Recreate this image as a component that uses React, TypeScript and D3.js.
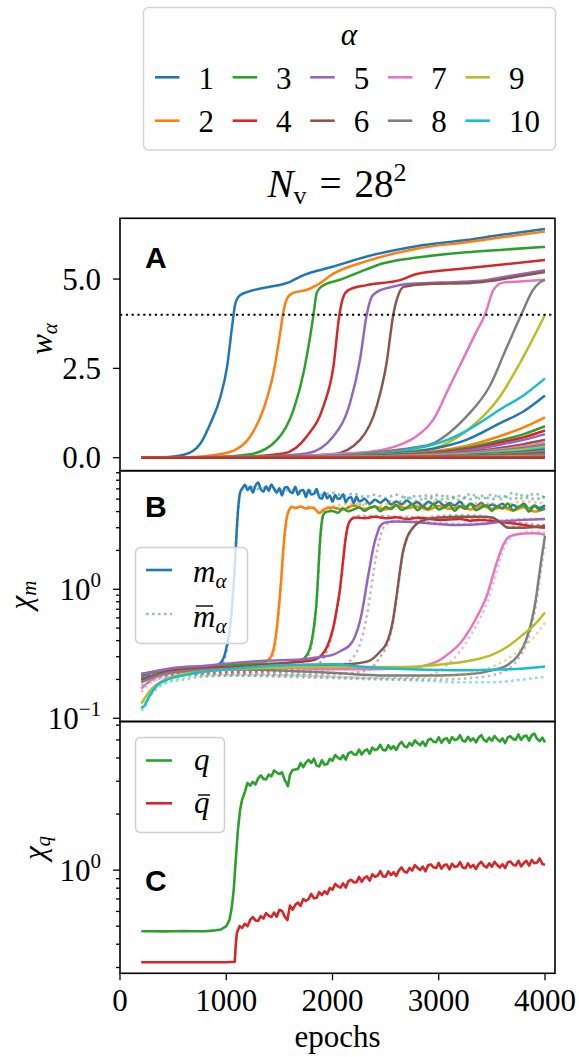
import React from 'react';
import * as d3 from 'd3';

type Pt = [number, number];

// ---------------- DATA ----------------
const alphaLabels = ['1', '2', '3', '4', '5', '6', '7', '8', '9', '10'];
const xTickValues = [0, 1000, 2000, 3000, 4000];
const aTickValues = [0, 2.5, 5.0];
const wThreshold = 4.0;

// Panel A: w_alpha (hidden units 1..10 labelled, then more units)
const w1: Pt[] = [[200,0],[400,0.01],[600,0.08],[757,0.4],[851,0.96],[945,1.7],[1008,2.55],[1055,3.67],[1086,4.32],[1133,4.55],[1258,4.69],[1400,4.78],[1540,4.86],[1600,4.92],[1696,5.07],[2009,5.35],[2322,5.63],[2791,5.92],[3260,6.09],[3573,6.23],[4000,6.4]];
const w2: Pt[] = [[200,0],[600,0.01],[851,0.06],[1070,0.2],[1227,0.6],[1352,1.37],[1446,2.4],[1508,3.5],[1533,4.0],[1571,4.45],[1620,4.6],[1760,4.7],[1853,4.83],[2009,5.15],[2322,5.5],[2791,5.85],[3260,6.03],[3573,6.16],[4000,6.33]];
const w3: Pt[] = [[200,0],[800,0.01],[1227,0.1],[1477,0.5],[1633,1.34],[1727,2.37],[1790,3.4],[1821,4.0],[1852,4.62],[1900,4.8],[2071,4.98],[2300,5.25],[2478,5.44],[2791,5.6],[3260,5.75],[3600,5.82],[4000,5.9]];
const w4: Pt[] = [[200,0],[1000,0.01],[1540,0.12],[1759,0.6],[1915,1.44],[2009,2.56],[2065,4.0],[2102,4.5],[2150,4.69],[2322,4.83],[2635,4.97],[2791,5.14],[3260,5.3],[4000,5.53]];
const w5: Pt[] = [[200,0],[1200,0.02],[1759,0.12],[2009,0.6],[2165,1.53],[2259,2.75],[2322,4.0],[2369,4.5],[2420,4.64],[2560,4.78],[2700,4.86],[3000,4.9],[3400,4.95],[3600,5.05],[4000,5.25]];
const w6: Pt[] = [[200,0],[1400,0.02],[2009,0.1],[2259,0.5],[2416,1.44],[2509,2.65],[2572,4.0],[2619,4.55],[2670,4.78],[2900,4.86],[3300,4.89],[3500,4.95],[3700,5.05],[4000,5.2]];
const w7: Pt[] = [[200,0],[1500,0.03],[2000,0.1],[2300,0.15],[2478,0.22],[2650,0.38],[2791,0.6],[2947,1.06],[3103,2.0],[3263,2.97],[3350,3.5],[3435,4.0],[3513,4.69],[3560,4.85],[3604,4.9],[3760,4.93],[4000,4.98]];
const w8: Pt[] = [[200,0],[1500,0.02],[2000,0.05],[2500,0.18],[2800,0.3],[2947,0.4],[3100,0.7],[3260,1.15],[3479,2.0],[3636,3.06],[3776,4.0],[3886,4.69],[3950,4.9],[4000,4.98]];
const w9: Pt[] = [[200,0],[1500,0.02],[2000,0.04],[2500,0.12],[2800,0.2],[2947,0.26],[3260,0.75],[3573,1.7],[3792,2.8],[4000,4.0]];
const w10: Pt[] = [[200,0],[1500,0.03],[2000,0.06],[2500,0.12],[2800,0.27],[2950,0.37],[3100,0.52],[3260,0.75],[3400,1.0],[3573,1.34],[3800,1.75],[4000,2.22]];
const w11: Pt[] = [[200,0],[1500,0.03],[2000,0.05],[2500,0.1],[2950,0.25],[3260,0.5],[3573,0.96],[3800,1.3],[4000,1.74]];
const w12: Pt[] = [[200,0],[1500,0.02],[2000,0.04],[2500,0.08],[2950,0.18],[3260,0.33],[3573,0.6],[3800,0.85],[4000,1.13]];
const w13: Pt[] = [[200,0],[1500,0.02],[2000,0.035],[2500,0.07],[2950,0.15],[3260,0.27],[3573,0.48],[3800,0.66],[4000,0.88]];
const w14: Pt[] = [[200,0],[1500,0.015],[2000,0.03],[2500,0.06],[2950,0.13],[3260,0.23],[3573,0.42],[3800,0.57],[4000,0.76]];
const w15: Pt[] = [[200,0],[1500,0.015],[2000,0.03],[2500,0.055],[2950,0.11],[3260,0.2],[3573,0.36],[3800,0.5],[4000,0.66]];
const w16: Pt[] = [[200,0],[1500,0.01],[2000,0.025],[2500,0.045],[2950,0.09],[3260,0.15],[3573,0.27],[3800,0.38],[4000,0.5]];
const w17: Pt[] = [[200,0],[1500,0.01],[2000,0.02],[2500,0.04],[2950,0.08],[3260,0.13],[3573,0.23],[3800,0.32],[4000,0.42]];
const w18: Pt[] = [[200,0],[1500,0.01],[2000,0.02],[2500,0.035],[2950,0.07],[3260,0.11],[3573,0.2],[3800,0.27],[4000,0.36]];
const w19: Pt[] = [[200,0],[1500,0.01],[2000,0.018],[2500,0.03],[2950,0.06],[3260,0.1],[3573,0.17],[3800,0.23],[4000,0.31]];
const w20: Pt[] = [[200,0],[1500,0.008],[2000,0.015],[2500,0.025],[2950,0.05],[3260,0.08],[3573,0.14],[3800,0.19],[4000,0.26]];
const w21: Pt[] = [[200,0],[1500,0.007],[2000,0.012],[2500,0.02],[2950,0.04],[3260,0.065],[3573,0.12],[3800,0.16],[4000,0.22]];
const w22: Pt[] = [[200,0],[1500,0.006],[2000,0.01],[2500,0.017],[2950,0.033],[3260,0.055],[3573,0.095],[3800,0.13],[4000,0.18]];
const w23: Pt[] = [[200,0],[1500,0.005],[2000,0.008],[2500,0.014],[2950,0.027],[3260,0.045],[3573,0.08],[3800,0.11],[4000,0.15]];
const w24: Pt[] = [[200,0],[1500,0.004],[2000,0.007],[2500,0.011],[2950,0.022],[3260,0.036],[3573,0.064],[3800,0.088],[4000,0.12]];
const w25: Pt[] = [[200,0],[1500,0.003],[2000,0.006],[2500,0.009],[2950,0.018],[3260,0.03],[3573,0.053],[3800,0.073],[4000,0.1]];
const w26: Pt[] = [[200,0],[1500,0.003],[2000,0.005],[2500,0.007],[2950,0.014],[3260,0.024],[3573,0.042],[3800,0.058],[4000,0.08]];
const w27: Pt[] = [[200,0],[1500,0.002],[2000,0.004],[2500,0.006],[2950,0.011],[3260,0.018],[3573,0.032],[3800,0.044],[4000,0.06]];
const w28: Pt[] = [[200,0],[1500,0.002],[2000,0.003],[2500,0.005],[2950,0.009],[3260,0.015],[3573,0.027],[3800,0.037],[4000,0.05]];
const w29: Pt[] = [[200,0],[2000,0.002],[2500,0.004],[2950,0.007],[3260,0.012],[3573,0.021],[3800,0.029],[4000,0.04]];
const w30: Pt[] = [[200,0],[2000,0.002],[2500,0.003],[2950,0.005],[3260,0.009],[3573,0.016],[3800,0.022],[4000,0.03]];
const w31: Pt[] = [[200,0],[2500,0.002],[2950,0.004],[3260,0.006],[3573,0.011],[3800,0.015],[4000,0.02]];
const w32: Pt[] = [[200,0],[2500,0.001],[2950,0.002],[3260,0.004],[3573,0.007],[3800,0.009],[4000,0.012]];
const w33: Pt[] = [[200,0],[2950,0.001],[3260,0.002],[3573,0.003],[3800,0.004],[4000,0.006]];
const w34: Pt[] = [[200,0],[4000,0]];
const wSeries: Pt[][] = [w1,w2,w3,w4,w5,w6,w7,w8,w9,w10,w11,w12,w13,w14,w15,w16,w17,w18,w19,w20,w21,w22,w23,w24,w25,w26,w27,w28,w29,w30,w31,w32,w33,w34];

// Panel B: chi_m for m_alpha (solid) and m-bar_alpha (dotted)
const m1: Pt[] = [[200,0.21],[300,0.225],[400,0.235],[500,0.24],[600,0.245],[700,0.25],[800,0.25],[900,0.255],[950,0.27],[980,0.3],[1010,0.38],[1035,0.5],[1055,0.75],[1070,1.1],[1085,1.8],[1100,3.0],[1115,4.5],[1130,5.6],[1150,6.0],[1175,6.47],[1200,5.86],[1225,6.22],[1250,5.61],[1275,6.34],[1300,6.71],[1325,5.96],[1350,5.7],[1375,6.28],[1400,5.78],[1425,6.48],[1450,5.99],[1475,5.61],[1500,6.07],[1525,5.33],[1550,6.13],[1575,6.21],[1600,5.71],[1625,5.57],[1650,6.23],[1675,5.4],[1700,5.81],[1725,5.89],[1750,5.17],[1775,5.9],[1800,5.42],[1825,5.48],[1850,5.98],[1875,5.18],[1900,5.03],[1925,5.63],[1950,5.06],[1975,5.33],[2000,4.78],[2025,5.37],[2050,5.02],[2075,5.09],[2100,5.45],[2125,4.72],[2150,5.1],[2175,5.17],[2200,4.65],[2225,5.22],[2250,4.8],[2275,4.87],[2300,5.04],[2350,4.59],[2400,4.94],[2450,4.68],[2500,4.99],[2550,4.54],[2600,4.79],[2650,4.55],[2700,4.87],[2750,4.57],[2800,4.74],[2850,4.4],[2900,4.76],[2950,4.56],[3000,4.78],[3050,4.44],[3100,4.66],[3150,4.46],[3200,4.77],[3250,4.34],[3300,4.6],[3350,4.4],[3400,4.66],[3450,4.33],[3500,4.54],[3550,4.4],[3600,4.61],[3650,4.24],[3700,4.5],[3750,4.31],[3800,4.61],[3850,4.2],[3900,4.46],[3950,4.27],[4000,4.48]];
const m2: Pt[] = [[200,0.22],[400,0.235],[600,0.245],[800,0.25],[1000,0.26],[1200,0.265],[1350,0.27],[1420,0.3],[1460,0.4],[1490,0.65],[1510,1.0],[1530,1.7],[1550,2.7],[1570,3.6],[1590,4.1],[1620,4.35],[1650,4.25],[1700,4.38],[1750,4.22],[1800,4.3],[1840,4.15],[1870,3.9],[1900,4.0],[1930,4.2],[2000,4.3],[2100,4.15],[2200,4.45],[2300,4.2],[2400,4.35],[2500,4.15],[2600,4.45],[2700,4.25],[2800,4.38],[2900,4.12],[3000,4.42],[3100,4.2],[3200,4.35],[3300,4.15],[3400,4.45],[3500,4.2],[3600,4.3],[3700,4.08],[3800,4.32],[3900,4.0],[4000,4.2]];
const m3: Pt[] = [[200,0.22],[500,0.24],[800,0.25],[1100,0.26],[1400,0.265],[1600,0.27],[1700,0.28],[1760,0.31],[1800,0.38],[1830,0.55],[1850,0.8],[1865,1.3],[1880,2.2],[1895,3.1],[1915,3.8],[1950,4.0],[2000,4.05],[2050,3.92],[2100,4.22],[2150,4.02],[2200,4.15],[2250,4.3],[2300,4.05],[2350,4.28],[2400,4.4],[2450,4.02],[2500,4.35],[2550,4.18],[2600,4.5],[2650,4.12],[2700,4.3],[2750,4.55],[2800,4.1],[2850,4.38],[2900,4.2],[2950,4.58],[3000,4.15],[3050,4.32],[3100,4.5],[3150,4.05],[3200,4.42],[3250,4.2],[3300,4.6],[3350,4.1],[3400,4.3],[3450,4.48],[3500,4.05],[3550,4.4],[3600,4.22],[3650,4.62],[3700,4.08],[3750,4.35],[3800,4.5],[3850,4.0],[3900,4.42],[3950,4.12],[4000,4.25]];
const m4: Pt[] = [[200,0.2],[500,0.235],[800,0.245],[1100,0.25],[1400,0.26],[1600,0.27],[1800,0.28],[1900,0.31],[1950,0.36],[1980,0.42],[2010,0.52],[2040,0.7],[2070,1.0],[2090,1.4],[2110,2.0],[2130,2.7],[2150,3.2],[2180,3.5],[2220,3.6],[2300,3.55],[2400,3.65],[2500,3.55],[2600,3.62],[2700,3.5],[2800,3.58],[3000,3.45],[3200,3.5],[3300,3.4],[3400,3.45],[3600,3.3],[3800,3.15],[3900,3.05],[4000,3.0]];
const m5: Pt[] = [[200,0.22],[500,0.245],[800,0.255],[1100,0.27],[1400,0.28],[1700,0.285],[1900,0.3],[2000,0.31],[2100,0.34],[2150,0.36],[2200,0.41],[2240,0.5],[2270,0.62],[2300,0.85],[2330,1.2],[2360,1.65],[2390,2.2],[2420,2.7],[2450,3.1],[2500,3.3],[2600,3.35],[2800,3.3],[3000,3.2],[3200,3.15],[3400,3.2],[3600,3.35],[3800,3.45],[4000,3.5]];
const m6: Pt[] = [[200,0.2],[500,0.23],[800,0.24],[1100,0.245],[1400,0.25],[1700,0.255],[2000,0.26],[2200,0.265],[2350,0.28],[2450,0.33],[2500,0.37],[2540,0.45],[2570,0.58],[2600,0.85],[2630,1.3],[2660,1.9],[2700,2.5],[2750,2.95],[2800,3.25],[2900,3.5],[3000,3.6],[3200,3.65],[3400,3.65],[3500,3.6],[3580,3.3],[3650,3.0],[3800,3.0],[4000,3.1]];
const m7: Pt[] = [[200,0.17],[300,0.2],[500,0.225],[800,0.235],[1200,0.24],[1600,0.245],[2000,0.24],[2400,0.24],[2700,0.245],[2900,0.26],[3000,0.28],[3100,0.32],[3200,0.38],[3300,0.5],[3380,0.66],[3450,0.88],[3500,1.2],[3545,1.6],[3580,1.95],[3614,2.27],[3660,2.55],[3720,2.65],[3800,2.7],[3900,2.72],[4000,2.65]];
const m8: Pt[] = [[200,0.19],[400,0.22],[700,0.235],[1000,0.24],[1500,0.235],[2000,0.225],[2500,0.215],[3000,0.215],[3300,0.22],[3500,0.235],[3650,0.26],[3750,0.31],[3820,0.4],[3870,0.55],[3910,0.8],[3940,1.2],[3970,1.8],[4000,2.6]];
const m9: Pt[] = [[200,0.13],[250,0.15],[300,0.17],[400,0.195],[600,0.22],[900,0.235],[1300,0.245],[1800,0.25],[2300,0.25],[2700,0.25],[3000,0.26],[3300,0.28],[3500,0.31],[3650,0.36],[3800,0.45],[3900,0.53],[4000,0.66]];
const m10: Pt[] = [[200,0.12],[230,0.125],[260,0.14],[300,0.16],[350,0.18],[450,0.2],[600,0.215],[800,0.23],[1100,0.243],[1400,0.255],[1700,0.26],[2000,0.262],[2300,0.25],[2600,0.242],[2900,0.238],[3200,0.236],[3500,0.238],[3800,0.243],[4000,0.252]];
const mSeries: Pt[][] = [m1,m2,m3,m4,m5,m6,m7,m8,m9,m10];

const mb1: Pt[] = [[200,0.2],[400,0.23],[600,0.24],[800,0.245],[950,0.26],[1010,0.36],[1055,0.72],[1085,1.7],[1115,4.4],[1150,6.1],[1200,6.3],[1300,6.0],[1400,6.2],[1500,5.8],[1600,5.9],[1700,5.6],[1800,5.8],[1900,5.4],[2000,5.6],[2100,5.3],[2200,5.5],[2300,5.2],[2400,5.4],[2500,5.1],[2600,5.4],[2700,5.1],[2800,5.3],[2900,5.0],[3000,5.4],[3100,5.0],[3200,5.3],[3300,5.0],[3400,5.3],[3500,5.0],[3600,5.3],[3700,5.0],[3800,5.4],[3900,5.0],[4000,5.2]];
const mb2: Pt[] = [[200,0.21],[500,0.225],[800,0.23],[1100,0.235],[1300,0.24],[1400,0.26],[1460,0.36],[1490,0.6],[1510,0.95],[1530,1.6],[1550,2.6],[1570,3.5],[1590,4.1],[1620,4.4],[1700,4.3],[1800,4.4],[1850,4.15],[1880,3.9],[1910,4.2],[2000,4.4],[2200,4.6],[2400,4.4],[2600,4.7],[2800,4.5],[3000,4.8],[3200,4.5],[3400,4.7],[3600,4.5],[3800,4.8],[4000,4.6]];
const mb3: Pt[] = [[200,0.21],[500,0.225],[800,0.23],[1100,0.23],[1400,0.235],[1600,0.24],[1700,0.25],[1760,0.29],[1800,0.36],[1830,0.52],[1850,0.78],[1865,1.25],[1880,2.1],[1895,3.0],[1915,3.8],[1950,4.1],[2100,4.3],[2300,4.6],[2500,4.9],[2600,4.6],[2700,5.2],[2800,4.8],[2900,5.4],[3000,4.9],[3100,5.3],[3200,4.9],[3300,5.5],[3400,5.0],[3500,5.4],[3600,5.0],[3700,5.6],[3800,5.0],[3900,5.5],[4000,5.1]];
const mb4: Pt[] = [[200,0.2],[500,0.22],[800,0.225],[1100,0.23],[1400,0.23],[1600,0.235],[1800,0.25],[1900,0.28],[1950,0.34],[1980,0.4],[2010,0.5],[2040,0.68],[2070,0.98],[2090,1.4],[2110,2.0],[2130,2.7],[2150,3.2],[2180,3.5],[2220,3.7],[2400,3.7],[2600,3.65],[2800,3.6],[3000,3.55],[3300,3.5],[3600,3.4],[3800,3.25],[4000,3.1]];
const mb5: Pt[] = [[200,0.21],[500,0.22],[800,0.225],[1100,0.225],[1400,0.23],[1700,0.23],[1900,0.235],[2000,0.24],[2100,0.26],[2200,0.3],[2250,0.36],[2290,0.46],[2320,0.6],[2350,0.85],[2380,1.25],[2410,1.8],[2440,2.4],[2470,2.9],[2510,3.2],[2600,3.4],[2800,3.35],[3000,3.25],[3200,3.2],[3400,3.25],[3600,3.4],[3800,3.5],[4000,3.5]];
const mb6: Pt[] = [[200,0.2],[500,0.215],[800,0.22],[1100,0.22],[1400,0.22],[1700,0.22],[2000,0.22],[2200,0.225],[2350,0.24],[2450,0.3],[2500,0.35],[2540,0.43],[2570,0.56],[2600,0.82],[2630,1.25],[2660,1.85],[2700,2.45],[2750,2.95],[2800,3.3],[2900,3.6],[3000,3.7],[3200,3.75],[3400,3.7],[3500,3.6],[3580,3.3],[3650,3.05],[3800,3.05],[4000,3.15]];
const mb7: Pt[] = [[200,0.16],[300,0.19],[500,0.215],[800,0.22],[1200,0.22],[1600,0.215],[2000,0.21],[2400,0.205],[2700,0.205],[2900,0.215],[3000,0.23],[3100,0.27],[3200,0.33],[3300,0.44],[3400,0.62],[3470,0.85],[3520,1.15],[3565,1.55],[3600,1.95],[3640,2.3],[3690,2.55],[3760,2.7],[3850,2.8],[4000,2.75]];
const mb8: Pt[] = [[200,0.18],[400,0.205],[700,0.215],[1000,0.215],[1500,0.21],[2000,0.205],[2500,0.2],[3000,0.2],[3300,0.205],[3500,0.215],[3650,0.24],[3750,0.29],[3820,0.37],[3870,0.5],[3910,0.72],[3940,1.05],[3970,1.6],[4000,2.3]];
const mb9: Pt[] = [[200,0.12],[250,0.14],[300,0.16],[400,0.185],[600,0.205],[900,0.215],[1300,0.215],[1800,0.21],[2300,0.205],[2700,0.205],[3000,0.21],[3300,0.225],[3500,0.25],[3650,0.29],[3800,0.36],[3900,0.43],[4000,0.55]];
const mb10: Pt[] = [[200,0.115],[230,0.12],[260,0.135],[300,0.155],[350,0.17],[450,0.19],[600,0.2],[800,0.21],[1100,0.215],[1400,0.215],[1700,0.215],[2000,0.21],[2300,0.205],[2600,0.2],[2900,0.195],[3200,0.19],[3500,0.19],[3800,0.2],[4000,0.21]];
const mBarSeries: Pt[][] = [mb1,mb2,mb3,mb4,mb5,mb6,mb7,mb8,mb9,mb10];

// Panel C: chi_q for q and q-bar
const qSeries: Pt[] = [[200,0.47],[300,0.47],[400,0.469],[500,0.47],[600,0.471],[700,0.47],[800,0.47],[900,0.475],[950,0.48],[1000,0.5],[1030,0.54],[1050,0.62],[1070,0.78],[1090,1.15],[1110,1.65],[1130,2.1],[1150,2.4],[1175,2.62],[1200,2.94],[1225,2.84],[1250,2.98],[1275,2.88],[1300,3.11],[1325,3.23],[1350,3.09],[1375,3.07],[1400,3.26],[1425,3.19],[1450,3.43],[1475,3.34],[1500,3.28],[1525,3.35],[1550,3.04],[1565,2.95],[1580,2.82],[1600,3.26],[1625,3.45],[1650,3.47],[1675,3.49],[1700,3.76],[1725,3.57],[1750,3.79],[1775,3.91],[1800,3.76],[1825,3.97],[1850,3.64],[1875,3.6],[1900,3.89],[1925,3.68],[1950,3.71],[1975,3.96],[2000,3.87],[2025,4.15],[2050,4.02],[2075,3.94],[2100,4.14],[2125,3.92],[2150,4.24],[2175,4.32],[2200,4.18],[2225,4.17],[2250,4.44],[2275,4.17],[2300,4.37],[2325,4.45],[2350,4.21],[2375,4.55],[2400,4.41],[2425,4.47],[2450,4.71],[2475,4.42],[2500,4.39],[2525,4.69],[2550,4.47],[2575,4.63],[2600,4.42],[2625,4.72],[2650,4.88],[2675,4.63],[2700,4.56],[2725,4.82],[2750,4.66],[2775,4.97],[2800,4.8],[2825,4.69],[2850,4.9],[2875,4.64],[2900,5.0],[2925,5.07],[2950,4.89],[2975,4.86],[3000,5.17],[3025,4.83],[3050,5.05],[3075,5.11],[3100,4.82],[3125,5.18],[3150,4.99],[3175,5.04],[3200,5.3],[3225,4.95],[3250,4.9],[3275,5.2],[3300,4.95],[3325,5.1],[3350,4.85],[3375,5.15],[3400,5.3],[3425,5.0],[3450,4.9],[3475,5.15],[3500,4.95],[3525,5.25],[3550,5.05],[3575,4.9],[3600,5.1],[3625,4.81],[3650,5.17],[3675,5.23],[3700,5.05],[3725,5.02],[3750,5.35],[3775,5.0],[3800,5.23],[3825,5.28],[3850,4.96],[3875,5.31],[3900,5.41],[3925,5.07],[3950,4.93],[3975,5.14],[4000,4.85]];
const qBarSeries: Pt[] = [[200,0.32],[400,0.32],[600,0.32],[800,0.32],[1000,0.32],[1080,0.322],[1090,0.4],[1100,0.46],[1125,0.5],[1150,0.49],[1175,0.515],[1200,0.5],[1225,0.54],[1250,0.56],[1275,0.537],[1300,0.534],[1325,0.566],[1350,0.549],[1375,0.588],[1400,0.57],[1425,0.56],[1450,0.591],[1475,0.562],[1500,0.612],[1525,0.603],[1550,0.564],[1575,0.539],[1600,0.645],[1625,0.613],[1650,0.651],[1675,0.67],[1700,0.643],[1725,0.7],[1750,0.683],[1775,0.7],[1800,0.746],[1825,0.706],[1850,0.708],[1875,0.762],[1900,0.735],[1925,0.77],[1950,0.744],[1975,0.803],[2000,0.784],[2025,0.842],[2050,0.82],[2075,0.805],[2100,0.848],[2125,0.806],[2150,0.872],[2175,0.888],[2200,0.861],[2225,0.859],[2250,0.92],[2275,0.865],[2300,0.909],[2325,0.925],[2350,0.878],[2375,0.95],[2400,0.921],[2425,0.935],[2450,0.987],[2475,0.926],[2500,0.922],[2525,0.984],[2550,0.941],[2575,0.975],[2600,0.931],[2625,0.997],[2650,1.034],[2675,0.982],[2700,0.97],[2725,1.028],[2750,0.995],[2775,1.063],[2800,1.03],[2825,1.001],[2850,1.045],[2875,0.985],[2900,1.061],[2925,1.073],[2950,1.035],[2975,1.026],[3000,1.092],[3025,1.019],[3050,1.061],[3075,1.071],[3100,1.008],[3125,1.082],[3150,1.04],[3175,1.05],[3200,1.103],[3225,1.034],[3250,1.023],[3275,1.087],[3300,1.034],[3325,1.066],[3350,1.013],[3375,1.076],[3400,1.108],[3425,1.054],[3450,1.033],[3475,1.086],[3500,1.044],[3525,1.108],[3550,1.065],[3575,1.033],[3600,1.076],[3625,1.026],[3650,1.102],[3675,1.112],[3700,1.069],[3725,1.058],[3750,1.123],[3775,1.048],[3800,1.091],[3825,1.122],[3850,1.056],[3875,1.133],[3900,1.089],[3925,1.1],[3950,1.155],[3975,1.078],[4000,1.067]];

// ---------------- LAYOUT ----------------
const W = 579, H = 1057;
const L = 120, R = 555;
const topA = 218.3, botA = 470.7, botB = 721.5, botC = 973.3;
const SERIF = "'Liberation Serif', 'DejaVu Serif', serif";
const SANS = "'Liberation Sans', 'DejaVu Sans', sans-serif";
const FS = 31, FSS = 21;
const colors = d3.schemeCategory10;

const x = d3.scaleLinear().domain([0, 4094]).range([L, R]);
const yA = d3.scaleLinear().domain([-0.364, 6.70]).range([botA, topA]);
const yB = d3.scaleLog().domain([Math.pow(10, -1.025), Math.pow(10, 0.919)]).range([botB, botA]);
const yC = d3.scaleLog().domain([Math.pow(10, -0.554), Math.pow(10, 0.798)]).range([botC, botB]);

const isPow10 = (v: number) => Math.abs(Math.log10(v) - Math.round(Math.log10(v))) < 1e-9;

function LogAxis({ scale }: { scale: d3.ScaleLogarithmic<number, number> }) {
  const [d0, d1] = scale.domain();
  const ticks = scale.ticks().filter(v => v >= d0 && v <= d1);
  return (
    <g>
      {ticks.map((v, i) => {
        const major = isPow10(v);
        const yy = scale(v);
        const e = Math.round(Math.log10(v));
        return (
          <g key={i}>
            <line x1={L - (major ? 7 : 4)} x2={L} y1={yy} y2={yy} stroke="#000" strokeWidth={1.3} />
            {major && (
              <text x={101} y={yy + 11} textAnchor="end" fontFamily={SERIF} fontSize={FS}>
                10<tspan fontSize={FSS} dy={-13}>{String(e).replace('-', '\u2212')}</tspan>
              </text>
            )}
          </g>
        );
      })}
    </g>
  );
}

export default function App() {
  const lineA = d3.line<Pt>().x(d => x(d[0])).y(d => yA(d[1])).curve(d3.curveMonotoneX);
  const lineB = d3.line<Pt>().x(d => x(d[0])).y(d => yB(d[1])).curve(d3.curveMonotoneX);
  const lineC = d3.line<Pt>().x(d => x(d[0])).y(d => yC(d[1])).curve(d3.curveLinear);

  const colStep = 77.6;
  return (
    <svg width={W} height={H} viewBox={`0 0 ${W} ${H}`} style={{ position: 'absolute', left: 0, top: 0, background: '#fff' }}>
      <rect x={0} y={0} width={W} height={H} fill="#fff" />
      <defs>
        <clipPath id="clipA"><rect x={L} y={topA} width={R - L} height={botA - topA} /></clipPath>
        <clipPath id="clipB"><rect x={L} y={botA} width={R - L} height={botB - botA} /></clipPath>
        <clipPath id="clipC"><rect x={L} y={botB} width={R - L} height={botC - botB} /></clipPath>
      </defs>

      {/* Top legend */}
      <rect x={143.5} y={7.5} width={412} height={142.5} rx={5} fill="#fff" stroke="#d5d5d5" strokeWidth={1.5} />
      <text x={349} y={45} textAnchor="middle" fontFamily={SERIF} fontSize={FS} fontStyle="italic">α</text>
      {alphaLabels.map((lab, i) => {
        const col = Math.floor(i / 2), row = i % 2;
        const hx = 155 + col * colStep;
        const hy = row === 0 ? 77.3 : 120.7;
        return (
          <g key={lab}>
            <line x1={hx} x2={hx + 24.5} y1={hy} y2={hy} stroke={colors[i]} strokeWidth={2.6} />
            <text x={hx + 43.5} y={hy + 11.5} fontFamily={SERIF} fontSize={FS}>{lab}</text>
          </g>
        );
      })}

      {/* Title */}
      <text x={337} y={197} textAnchor="middle" fontFamily={SERIF} fontSize={39}>
        <tspan fontStyle="italic">N</tspan><tspan fontSize={26} dy={7}>v</tspan><tspan dy={-7} dx={13}>=</tspan><tspan dx={13}>28</tspan><tspan fontSize={26} dy={-16}>2</tspan>
      </text>

      {/* Panel A */}
      <g clipPath="url(#clipA)">
        {wSeries.map((s, i) => (
          <path key={i} d={lineA(s) || ''} fill="none" stroke={colors[i % 10]} strokeWidth={2.5} />
        ))}
        <line x1={L} x2={R} y1={yA(wThreshold)} y2={yA(wThreshold)} stroke="#000" strokeWidth={2.2} strokeDasharray="2.2,3.6" />
      </g>
      {aTickValues.map(v => (
        <g key={v}>
          <line x1={L - 7} x2={L} y1={yA(v)} y2={yA(v)} stroke="#000" strokeWidth={1.3} />
          <text x={101} y={yA(v) + 10.5} textAnchor="end" fontFamily={SERIF} fontSize={FS}>{d3.format('.1f')(v)}</text>
        </g>
      ))}
      <text x={145} y={268} fontFamily={SANS} fontWeight="bold" fontSize={30}>A</text>
      <text transform="translate(52,339) rotate(-90)" textAnchor="middle" fontFamily={SERIF} fontSize={FS}>
        <tspan fontStyle="italic">w</tspan><tspan fontStyle="italic" fontSize={FSS} dy={5}>α</tspan>
      </text>

      {/* Panel B */}
      <g clipPath="url(#clipB)">
        {mSeries.map((s, i) => (
          <g key={i}>
            <path d={lineB(s) || ''} fill="none" stroke={colors[i]} strokeWidth={2.5} strokeLinejoin="round" />
            <path d={lineB(mBarSeries[i]) || ''} fill="none" stroke={colors[i]} strokeOpacity={0.5} strokeWidth={2.6} strokeDasharray="2.6,3.4" />
          </g>
        ))}
      </g>
      <LogAxis scale={yB} />
      <text x={145} y={516.5} fontFamily={SANS} fontWeight="bold" fontSize={30}>B</text>
      <text transform="translate(31,595) rotate(-90)" textAnchor="middle" fontFamily={SERIF} fontSize={FS}>
        <tspan fontStyle="italic">χ</tspan><tspan fontStyle="italic" fontSize={FSS} dy={5}>m</tspan>
      </text>
      <rect x={135.5} y={547.5} width={112} height={96} rx={5} fill="#fff" fillOpacity={0.8} stroke="#d0d0d0" strokeWidth={1.5} />
      <line x1={146} x2={172} y1={570} y2={570} stroke={colors[0]} strokeWidth={2.6} />
      <text x={193} y={581.5} fontFamily={SERIF} fontSize={FS}>
        <tspan fontStyle="italic">m</tspan><tspan fontStyle="italic" fontSize={FSS} dy={6}>α</tspan>
      </text>
      <line x1={146} x2={172} y1={614} y2={614} stroke={colors[0]} strokeOpacity={0.5} strokeWidth={2.6} strokeDasharray="2.6,3.4" />
      <text x={193} y={626.5} fontFamily={SERIF} fontSize={FS}>
        <tspan fontStyle="italic">m</tspan><tspan fontStyle="italic" fontSize={FSS} dy={6}>α</tspan>
      </text>
      <line x1={196} x2={213} y1={606} y2={606} stroke="#000" strokeWidth={1.4} />

      {/* Panel C */}
      <g clipPath="url(#clipC)">
        <path d={lineC(qSeries) || ''} fill="none" stroke={colors[2]} strokeWidth={2.6} strokeLinejoin="round" />
        <path d={lineC(qBarSeries) || ''} fill="none" stroke={colors[3]} strokeWidth={2.6} strokeLinejoin="round" />
      </g>
      <LogAxis scale={yC} />
      <text x={145} y={890.5} fontFamily={SANS} fontWeight="bold" fontSize={30}>C</text>
      <text transform="translate(45,848) rotate(-90)" textAnchor="middle" fontFamily={SERIF} fontSize={FS}>
        <tspan fontStyle="italic">χ</tspan><tspan fontStyle="italic" fontSize={FSS} dy={5}>q</tspan>
      </text>
      <rect x={135.5} y={737.5} width={89} height={95} rx={5} fill="#fff" fillOpacity={0.8} stroke="#d0d0d0" strokeWidth={1.5} />
      <line x1={146} x2={172} y1={760.5} y2={760.5} stroke={colors[2]} strokeWidth={2.6} />
      <text x={194} y={770} fontFamily={SERIF} fontSize={FS} fontStyle="italic">q</text>
      <line x1={146} x2={172} y1={803.3} y2={803.3} stroke={colors[3]} strokeWidth={2.6} />
      <text x={194} y={813} fontFamily={SERIF} fontSize={FS} fontStyle="italic">q</text>
      <line x1={198} x2={210} y1={795} y2={795} stroke="#000" strokeWidth={1.4} />

      {/* Frames */}
      <rect x={L} y={topA} width={R - L} height={botA - topA} fill="none" stroke="#000" strokeWidth={1.6} />
      <rect x={L} y={botA} width={R - L} height={botB - botA} fill="none" stroke="#000" strokeWidth={1.6} />
      <rect x={L} y={botB} width={R - L} height={botC - botB} fill="none" stroke="#000" strokeWidth={1.6} />

      {/* X axis */}
      {xTickValues.map(v => (
        <g key={v}>
          <line x1={x(v)} x2={x(v)} y1={botC} y2={botC + 7} stroke="#000" strokeWidth={1.3} />
          <text x={x(v)} y={1011} textAnchor="middle" fontFamily={SERIF} fontSize={FS}>{String(v)}</text>
        </g>
      ))}
      <text x={(L + R) / 2} y={1047} textAnchor="middle" fontFamily={SERIF} fontSize={FS}>epochs</text>
    </svg>
  );
}
